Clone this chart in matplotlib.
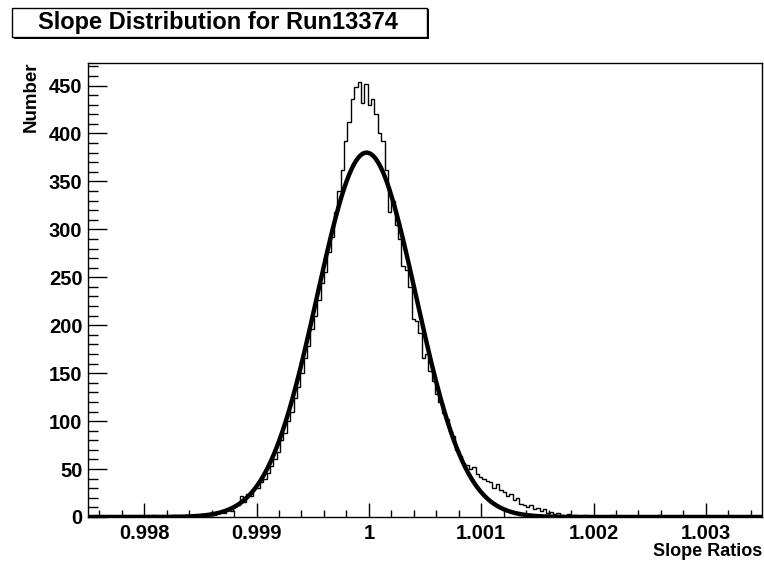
import numpy as np
import matplotlib
matplotlib.use("Agg")
import matplotlib.pyplot as plt
from matplotlib.patches import Rectangle
from matplotlib.ticker import MultipleLocator, FixedLocator, FixedFormatter

plt.rcParams['font.family'] = ['Liberation Sans', 'DejaVu Sans']
plt.rcParams['font.weight'] = 'bold'

# Histogram binning: 200 bins over the slope-ratio range
x_low, x_high, n_bins = 0.9975, 1.0035, 200

# Bin contents (entries per bin)
counts = [
    0, 0, 0, 0, 0, 0, 0, 0, 0, 0, 0, 0, 0, 0, 0, 0, 0, 1, 0, 2,
    0, 1, 0, 0, 0, 2, 0, 0, 1, 0, 0, 1, 0, 2, 1, 2, 3, 2, 4, 5,
    4, 7, 6, 10, 12, 22, 16, 24, 22, 30, 30, 36, 40, 46, 53, 60, 68, 80, 88, 100,
    110, 124, 136, 150, 166, 178, 196, 210, 226, 244, 256, 276, 292, 318, 340, 362, 392, 412, 436, 448,
    454, 432, 452, 430, 436, 420, 400, 392, 362, 318, 330, 305, 290, 262, 258, 240, 206, 204, 192, 166,
    170, 152, 142, 128, 120, 108, 102, 90, 84, 70, 64, 56, 54, 50, 52, 45, 42, 40, 38, 36,
    30, 34, 28, 26, 22, 24, 18, 20, 14, 12, 10, 12, 8, 9, 6, 8, 4, 5, 3, 4,
    2, 1, 3, 1, 2, 0, 1, 2, 0, 1, 0, 0, 1, 0, 0, 2, 0, 0, 1, 0,
    0, 0, 1, 0, 0, 0, 1, 0, 0, 2, 0, 0, 0, 1, 0, 0, 0, 1, 0, 0,
    0, 1, 0, 0, 1, 0, 0, 0, 1, 0, 0, 0, 1, 0, 0, 0, 1, 0, 0, 0,
]

# Gaussian fit parameters: constant, mean, sigma
fit_const, fit_mean, fit_sigma = 380.0, 0.99998, 0.00044

x_ticks = [0.998, 0.999, 1.0, 1.001, 1.002, 1.003]
x_tick_labels = ['0.998', '0.999', '1', '1.001', '1.002', '1.003']
y_ticks = [0, 50, 100, 150, 200, 250, 300, 350, 400, 450]

W, H = 764, 565
fig = plt.figure(figsize=(W / 100, H / 100), dpi=100)
ax = fig.add_axes([88 / W, 1 - 517 / H, (762 - 88) / W, (517 - 62.5) / H])

edges = np.linspace(x_low, x_high, n_bins + 1)
ax.stairs(counts, edges, color='black', linewidth=1.0, baseline=None)

xf = np.linspace(x_low, x_high, 1200)
yf = fit_const * np.exp(-0.5 * ((xf - fit_mean) / fit_sigma) ** 2)
ax.plot(xf, yf, color='black', linewidth=3.2, solid_capstyle='butt')

ax.set_xlim(x_low, x_high)
ax.set_ylim(0, 474)

ax.xaxis.set_major_locator(FixedLocator(x_ticks))
ax.xaxis.set_major_formatter(FixedFormatter(x_tick_labels))
ax.xaxis.set_minor_locator(MultipleLocator(0.0002))
ax.yaxis.set_major_locator(FixedLocator(y_ticks))
ax.yaxis.set_minor_locator(MultipleLocator(10))

ax.tick_params(which='both', direction='in', top=False, right=False,
               colors='black', width=1.0)
ax.tick_params(axis='y', which='major', length=14, pad=4, labelsize=14.5)
ax.tick_params(axis='y', which='minor', length=7)
ax.tick_params(axis='x', which='major', length=10, pad=5, labelsize=14.5)
ax.tick_params(axis='x', which='minor', length=5)
for lab in ax.get_xticklabels() + ax.get_yticklabels():
    lab.set_fontweight('bold')

for s in ax.spines.values():
    s.set_linewidth(1.0)
    s.set_color('black')

fig.text(762 / W, 1 - 551 / H, 'Slope Ratios', ha='right', va='center',
         fontsize=13, fontweight='bold')
fig.text(31 / W, 1 - 62 / H, 'Number', ha='center', va='top', rotation=90,
         fontsize=13.5, fontweight='bold')

# Title pave with drop shadow
fig.patches.append(Rectangle((14 / W, 1 - 39 / H), 415 / W, 30 / H,
                             transform=fig.transFigure, facecolor='black',
                             edgecolor='none', zorder=1))
fig.patches.append(Rectangle((12 / W, 1 - 37 / H), 415 / W, 29 / H,
                             transform=fig.transFigure, facecolor='white',
                             edgecolor='black', linewidth=1.0, zorder=2))
fig.text(218 / W, 1 - 23 / H, 'Slope Distribution for Run13374', ha='center',
         va='center', fontsize=17, fontweight='bold', zorder=3)

fig.savefig('out.png', dpi=100, facecolor='white')
